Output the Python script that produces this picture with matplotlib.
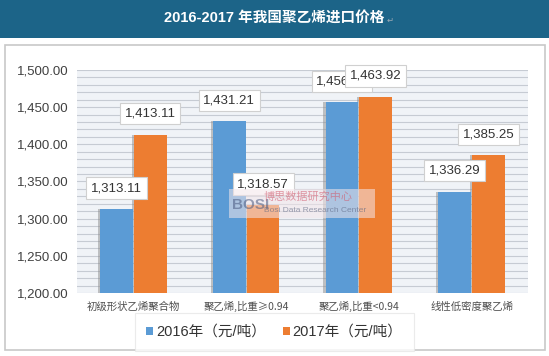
import matplotlib
matplotlib.use('Agg')
import matplotlib.pyplot as plt
from matplotlib.patches import Rectangle
import numpy as np

plt.rcParams['font.family'] = ['Liberation Sans', 'Noto Sans CJK SC', 'DejaVu Sans']

title = '2016-2017 年我国聚乙烯进口价格'
categories = ['初级形状乙烯聚合物', '聚乙烯,比重≥0.94', '聚乙烯,比重<0.94', '线性低密度聚乙烯']
series_names = ['2016年（元/吨）', '2017年（元/吨）']
values_2016 = [1313.11, 1431.21, 1456.46, 1336.29]
values_2017 = [1413.11, 1318.57, 1463.92, 1385.25]
yticks = [1200, 1250, 1300, 1350, 1400, 1450, 1500]
colors = ['#5b9bd5', '#ed7d31']

W, H = 549, 356
fig = plt.figure(figsize=(W / 100, H / 100), dpi=100)
fig.patch.set_facecolor('white')

# header band and card behind everything
fig.patches.append(Rectangle((0, 1 - 38 / H), 1, 38 / H, transform=fig.transFigure,
                             facecolor='#1c6488', edgecolor='none', zorder=-2))
fig.patches.append(Rectangle((5 / W, 6 / H), 540 / W, 305 / H, transform=fig.transFigure,
                             facecolor='white', edgecolor='#c8c8c8', linewidth=1.2, zorder=-2))
ttl = fig.text(0.5, 1 - 19 / H, title, color='white', fontsize=10.5, fontweight='bold',
               ha='center', va='center')
ret = fig.text(0, 0, '↵', color='#9aa9b5', fontsize=6, ha='left', va='center',
               family=['DejaVu Sans'])

ax = fig.add_axes([77 / W, 1 - 293 / H, 451 / W, 223 / H])
ax.set_facecolor('#f0f3f7')
ax.set_ylim(1200, 1500)
ax.set_xlim(-0.5, len(categories) - 0.5)
ax.set_yticks(yticks)
ax.set_yticklabels([f'{v:,.2f}' for v in yticks], fontsize=9.5, color='#404040')
ax.set_yticks(np.arange(1200, 1501, 10), minor=True)
ax.grid(axis='y', which='both', color='#c6cbd3', linewidth=0.8)
ax.set_axisbelow(True)
ax.tick_params(axis='y', which='both', length=0, pad=6)
ax.tick_params(axis='x', length=0, pad=6)
for s in ax.spines.values():
    s.set_visible(False)

x = np.arange(len(categories))
bw = 0.29
gap = 0.01
for i, (vals, c) in enumerate(zip([values_2016, values_2017], colors)):
    xs = x + (i - 0.5) * (bw + gap)
    # thin shadow on the left of each bar
    ax.bar(xs - 0.02, np.array(vals) - 1200, bottom=1200, width=bw, color='#8c8c8c',
           alpha=0.5, zorder=2)
    ax.bar(xs, np.array(vals) - 1200, bottom=1200, width=bw, color=c, zorder=3)
    for xi, v in zip(xs, vals):
        ax.annotate(f'{v:,.2f}', (xi, v), xytext=(0, 15), textcoords='offset points',
                    ha='center', va='center', fontsize=9.5, color='#333333', zorder=5 + i,
                    bbox=dict(boxstyle='square,pad=0.35', facecolor='white',
                              edgecolor='#d0d0d0', linewidth=0.8),
                    annotation_clip=False)

ax.set_xticks(x)
ax.set_xticklabels(categories, fontsize=7.5, color='#505050',
                   family=['Noto Sans CJK SC', 'DejaVu Sans'])

# watermark
fig.patches.append(Rectangle((229 / W, 1 - 218 / H), 146 / W, 29 / H, transform=fig.transFigure,
                             facecolor='#f3e6ea', edgecolor='none', alpha=0.55, zorder=9))
fig.text(232 / W, 1 - 205 / H, 'BOSI', fontsize=11, fontweight='bold', color='#4a5a80',
         alpha=0.55, ha='left', va='center', zorder=10)
fig.text(264 / W, 1 - 197 / H, '博思数据研究中心', fontsize=8, color='#d05a6e', alpha=0.6,
         ha='left', va='center', family=['Noto Sans CJK SC'], zorder=10)
fig.text(264 / W, 1 - 211 / H, 'Bosi Data Research Center', fontsize=6, color='#5a6480',
         alpha=0.6, ha='left', va='center', zorder=10)

handles = [Rectangle((0, 0), 1, 1, facecolor=c, edgecolor='none') for c in colors]
leg = fig.legend(handles, series_names, loc='center', bbox_to_anchor=(0.5, 1 - 332 / H),
                 ncol=2, frameon=True, handlelength=0.45, handleheight=0.45,
                 handletextpad=0.2, columnspacing=1.2, borderpad=0.5,
                 prop={'family': ['Liberation Sans', 'Noto Sans CJK SC'], 'size': 10.5})
leg.get_frame().set_edgecolor('#e6e6e6')
leg.get_frame().set_linewidth(0.8)
leg.get_frame().set_boxstyle('square')
for t in leg.get_texts():
    t.set_color('#333333')

# place the return mark right after the title
fig.canvas.draw()
bb = ttl.get_window_extent().transformed(fig.transFigure.inverted())
ret.set_position((bb.x1 + 2 / W, 1 - 20 / H))

fig.savefig('out.png', dpi=100)
